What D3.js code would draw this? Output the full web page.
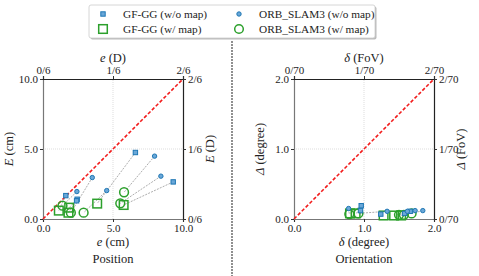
<!DOCTYPE html>
<html>
<head>
<meta charset="utf-8">
<script src="https://cdn.jsdelivr.net/npm/d3@7"></script>
<style>
  body { margin: 0; background: #fff; }
  svg { display: block; font-family: "Liberation Serif", serif; }
</style>
</head>
<body>
<svg id="chart"></svg>
<script>
// position panel (cm)
let posGfWo = [[1.63,1.67],[2.44,1.41],[2.40,1.30],[6.60,4.75],[9.30,2.65]];
let posGfW = [[1.13,0.60],[1.87,0.81],[1.82,0.45],[3.87,1.10],[5.76,1.00]];
let posOrbWo = [[2.42,1.96],[3.52,2.96],[4.55,2.03],[7.97,4.49],[8.42,3.06]];
let posOrbW = [[1.39,0.95],[1.99,0.45],[2.90,0.45],[5.79,1.91],[5.52,1.12]];

// orientation panel (degree)
let oriGfWo = [[0.96,0.19],[0.95,0.12],[1.24,0.07],[1.66,0.11],[1.58,0.08]];
let oriGfW = [[0.80,0.08],[0.88,0.08],[1.28,0.05],[1.43,0.05],[1.53,0.05]];
let oriOrbWo = [[0.78,0.15],[1.33,0.11],[1.62,0.11],[1.73,0.12],[1.84,0.12]];
let oriOrbW = [[0.79,0.07],[0.92,0.08],[1.50,0.06],[1.57,0.06],[1.68,0.08]];

let posTicks = [0, 5, 10];
let posTopLabels = ['0/6', '1/6', '2/6'];
let oriTicks = [0, 1, 2];
let oriTopLabels = ['0/70', '1/70', '2/70'];

let width = 479;
let height = 276;
let blue = '#1f77b4';
let green = '#2ca02c';
let font = '"Liberation Serif", serif';

let svg = d3.select('#chart').attr('width', width).attr('height', height);

let label = (sel, sym, unit) => {
    sel.append('tspan').attr('font-style', 'italic').text(sym);
    sel.append('tspan').text(' (' + unit + ')');
}

let drawPanel = (p) => {
    let xScale = d3.scaleLinear().domain(p.domain).range([p.x0, p.x0 + 140]);
    let yScale = d3.scaleLinear().domain(p.domain).range([219, 79]);
    let g = svg.append('g');

    // grid at middle tick
    let mid = p.ticks[1];
    g.append('line').attr('x1', xScale(mid)).attr('x2', xScale(mid))
     .attr('y1', yScale(p.domain[0])).attr('y2', yScale(p.domain[1]))
     .attr('stroke', '#c8c8c8').attr('stroke-width', 0.6).attr('stroke-dasharray', '1,1');
    g.append('line').attr('x1', xScale(p.domain[0])).attr('x2', xScale(p.domain[1]))
     .attr('y1', yScale(mid)).attr('y2', yScale(mid))
     .attr('stroke', '#c8c8c8').attr('stroke-width', 0.6).attr('stroke-dasharray', '1,1');

    let fmt = d3.format('.1f');
    let xAxis = d3.axisBottom(xScale).tickValues(p.ticks).tickFormat(fmt).tickSize(3).tickPadding(2);
    let yAxis = d3.axisLeft(yScale).tickValues(p.ticks).tickFormat(fmt).tickSize(3).tickPadding(2);
    let xTop = d3.axisTop(xScale).tickValues(p.ticks).tickFormat((d, i) => p.topLabels[i]).tickSize(3).tickPadding(2);
    let yRight = d3.axisRight(yScale).tickValues(p.ticks).tickFormat((d, i) => p.topLabels[i]).tickSize(3).tickPadding(2);

    let axes = [
        [xAxis, 'translate(0,219)', '#777'],
        [yAxis, 'translate(' + p.x0 + ',0)', '#777'],
        [xTop, 'translate(0,79)', '#222'],
        [yRight, 'translate(' + (p.x0 + 140) + ',0)', '#222']
    ];
    axes.forEach(([ax, tr, col]) => {
        let a = g.append('g').attr('transform', tr).call(ax);
        a.select('.domain').attr('stroke', col).attr('stroke-width', 1.2);
        a.selectAll('.tick line').attr('stroke', '#333');
        a.selectAll('text').attr('font-size', 11).attr('fill', '#222')
         .attr('font-family', font);
    });

    // red identity line
    g.append('line').attr('x1', xScale(p.domain[0])).attr('y1', yScale(p.domain[0]))
     .attr('x2', xScale(p.domain[1])).attr('y2', yScale(p.domain[1]))
     .attr('stroke', '#f21d1d').attr('stroke-width', 1.6).attr('stroke-dasharray', '3.5,2');

    // connector lines
    let pairs = [[p.gfWo, p.gfW], [p.orbWo, p.orbW]];
    pairs.forEach(([a, b]) => {
        g.selectAll(null).data(a).enter().append('line')
         .attr('x1', d => xScale(d[0])).attr('y1', d => yScale(d[1]))
         .attr('x2', (d, i) => xScale(b[i][0])).attr('y2', (d, i) => yScale(b[i][1]))
         .attr('stroke', '#8a8a8a').attr('stroke-width', 0.7).attr('stroke-dasharray', '2,1.2');
    });

    // markers
    g.selectAll(null).data(p.gfW).enter().append('rect')
     .attr('x', d => xScale(d[0]) - 4.3).attr('y', d => yScale(d[1]) - 4.3)
     .attr('width', 8.6).attr('height', 8.6)
     .attr('fill', 'none').attr('stroke', green).attr('stroke-width', 1.5);
    g.selectAll(null).data(p.orbW).enter().append('circle')
     .attr('cx', d => xScale(d[0])).attr('cy', d => yScale(d[1])).attr('r', 4.4)
     .attr('fill', 'none').attr('stroke', green).attr('stroke-width', 1.5);
    g.selectAll(null).data(p.gfWo).enter().append('rect')
     .attr('x', d => xScale(d[0]) - 2.2).attr('y', d => yScale(d[1]) - 2.2)
     .attr('width', 4.4).attr('height', 4.4)
     .attr('fill', '#6aa7d8').attr('stroke', blue).attr('stroke-width', 1);
    g.selectAll(null).data(p.orbWo).enter().append('circle')
     .attr('cx', d => xScale(d[0])).attr('cy', d => yScale(d[1])).attr('r', 2.2)
     .attr('fill', '#6aa7d8').attr('stroke', blue).attr('stroke-width', 1);

    // axis titles
    let cx = p.x0 + 70;
    svg.append('text').attr('x', cx).attr('y', 246).attr('text-anchor', 'middle')
       .attr('font-size', 12.5).attr('fill', '#222').call(label, p.sym, p.unit);
    svg.append('text').attr('x', cx).attr('y', 62).attr('text-anchor', 'middle')
       .attr('font-size', 12.5).attr('fill', '#222').call(label, p.sym, p.unitTop);
    svg.append('text').attr('transform', 'translate(' + (p.x0 - 30) + ',149) rotate(-90)')
       .attr('text-anchor', 'middle').attr('font-size', 12.5).attr('fill', '#222')
       .call(label, p.ySym, p.unit);
    svg.append('text').attr('transform', 'translate(' + (p.x0 + 171) + ',149) rotate(-90)')
       .attr('text-anchor', 'middle').attr('font-size', 12.5).attr('fill', '#222')
       .call(label, p.ySym, p.unitTop);
    svg.append('text').attr('x', cx).attr('y', 263).attr('text-anchor', 'middle')
       .attr('font-size', 12.5).attr('fill', '#222').text(p.title);
}

drawPanel({x0: 43, domain: [0, 10], ticks: posTicks, topLabels: posTopLabels,
    gfWo: posGfWo, gfW: posGfW, orbWo: posOrbWo, orbW: posOrbW,
    sym: 'e', ySym: 'E', unit: 'cm', unitTop: 'D', title: 'Position'});
drawPanel({x0: 294, domain: [0, 2], ticks: oriTicks, topLabels: oriTopLabels,
    gfWo: oriGfWo, gfW: oriGfW, orbWo: oriOrbWo, orbW: oriOrbW,
    sym: 'δ', ySym: 'Δ', unit: 'degree', unitTop: 'FoV', title: 'Orientation'});

// divider
svg.append('line').attr('x1', 232).attr('x2', 232).attr('y1', 41).attr('y2', 276)
   .attr('stroke', '#555').attr('stroke-width', 1.3).attr('stroke-dasharray', '2,1');

// legend
let legend = svg.append('g');
legend.append('rect').attr('x', 90.5).attr('y', 6.5).attr('width', 286).attr('height', 33)
      .attr('rx', 2).attr('fill', '#bbb');
legend.append('rect').attr('x', 89).attr('y', 5).attr('width', 286).attr('height', 33)
      .attr('rx', 2).attr('fill', '#fff').attr('stroke', '#ccc').attr('stroke-width', 0.8);
let legendItems = [
    {name: 'GF-GG (w/o map)', shape: 'sq', small: true, x: 103, y: 14},
    {name: 'GF-GG (w/ map)', shape: 'sq', small: false, x: 103, y: 29},
    {name: 'ORB_SLAM3 (w/o map)', shape: 'ci', small: true, x: 239, y: 14},
    {name: 'ORB_SLAM3 (w/ map)', shape: 'ci', small: false, x: 239, y: 29}
];
legendItems.forEach(it => {
    let s = it.small ? 2.2 : 4.3;
    if (it.shape === 'sq') {
        legend.append('rect').attr('x', it.x - s).attr('y', it.y - s).attr('width', 2 * s).attr('height', 2 * s)
              .attr('fill', it.small ? '#6aa7d8' : 'none').attr('stroke', it.small ? blue : green)
              .attr('stroke-width', it.small ? 1 : 1.5);
    } else {
        legend.append('circle').attr('cx', it.x).attr('cy', it.y).attr('r', s)
              .attr('fill', it.small ? '#6aa7d8' : 'none').attr('stroke', it.small ? blue : green)
              .attr('stroke-width', it.small ? 1 : 1.5);
    }
    legend.append('text').attr('x', it.x + 20).attr('y', it.y + 4)
          .attr('font-size', 11.3).attr('fill', '#222').attr('font-family', font).text(it.name);
});
</script>
</body>
</html>
